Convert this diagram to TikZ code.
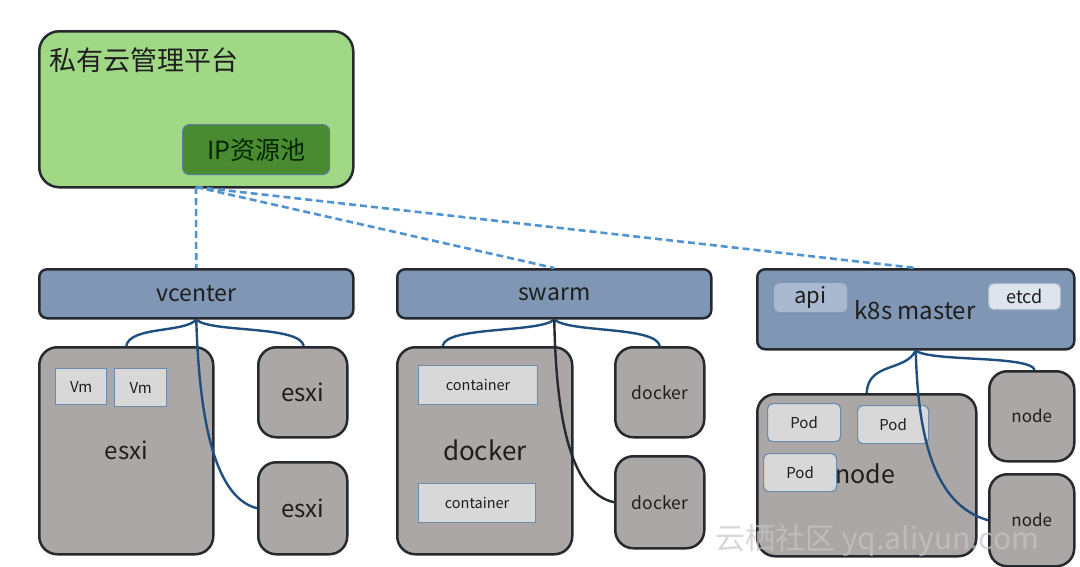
\documentclass[tikz,border=0pt]{standalone}
\usepackage{fontspec}
\setmainfont{Noto Sans CJK SC}
\usetikzlibrary{calc}
\definecolor{bd}{HTML}{262A30}
\definecolor{greenfill}{HTML}{A0D886}
\definecolor{poolfill}{HTML}{4A8A30}
\definecolor{poolbd}{HTML}{5A7F9A}
\definecolor{barfill}{HTML}{7F96B4}
\definecolor{greyfill}{HTML}{ABA7A7}
\definecolor{lightfill}{HTML}{D8D8D8}
\definecolor{lightbd}{HTML}{6C8CAE}
\definecolor{apifill}{HTML}{A9B9CF}
\definecolor{etcdfill}{HTML}{DEE4ED}
\definecolor{dashc}{HTML}{4F94D0}
\definecolor{linkc}{HTML}{1F4F7F}
\definecolor{txt}{HTML}{1E1E1E}
\newcommand{\fs}[1]{\fontsize{#1}{#1}\selectfont}
\begin{document}
\begin{tikzpicture}[x=1pt,y=-1pt,
  every node/.style={text=txt},
  base/.style={draw=bd, line width=2.5pt, anchor=north west, inner sep=0pt},
  platform/.style={base, fill=greenfill, rounded corners=20pt},
  bar/.style={base, fill=barfill, rounded corners=8pt, font=\fs{23}},
  host/.style={base, fill=greyfill, rounded corners=18pt},
  inner/.style={draw=lightbd, line width=1.2pt, fill=lightfill, anchor=north west, inner sep=0pt},
  pod/.style={inner, rounded corners=5pt},
  dashlink/.style={draw=dashc, line width=2.6pt, dash pattern=on 7pt off 4pt},
  link/.style={draw=linkc, line width=2.4pt},
  darklink/.style={draw=bd, line width=2.4pt}]
\useasboundingbox (0,0) rectangle (1080,566);

% platform
\node[platform, minimum width=314pt, minimum height=156pt] (plat) at (38,30) {};
\node[anchor=west, font=\fs{27}] (platt) at (46,60) {私有云管理平台};
\node[base, draw=poolbd, line width=1.2pt, fill=poolfill, rounded corners=7pt,
      minimum width=147pt, minimum height=50pt, font=\fs{25}, text=black!85!green] (pool) at (182,124) {IP资源池};
\coordinate (hub) at (196,187);

% vcenter
\node[bar, minimum width=314pt, minimum height=49pt] (vc) at (38,268) {vcenter};
\node[host, minimum width=174pt, minimum height=207pt, font=\fs{24}] (esxiA) at (38,346) {esxi};
\node[inner, minimum width=51pt, minimum height=36pt, font=\fs{15}] (vm1) at (55,368) {Vm};
\node[inner, minimum width=52pt, minimum height=38pt, font=\fs{15}] (vm2) at (114,368) {Vm};
\node[host, minimum width=89pt, minimum height=90pt, font=\fs{24}] (esxiB) at (257,346) {esxi};
\node[host, minimum width=89pt, minimum height=92pt, font=\fs{24}] (esxiC) at (257,461) {esxi};

% swarm
\node[bar, minimum width=314pt, minimum height=49pt] (sw) at (396,268) {swarm};
\node[host, minimum width=175pt, minimum height=207pt, font=\fs{26}] (dkA) at (396,346) {docker};
\node[inner, minimum width=119pt, minimum height=39pt, font=\fs{14.5}] (ct1) at (418,365) {container};
\node[inner, minimum width=117pt, minimum height=39pt, font=\fs{14.5}] (ct2) at (418,483) {container};
\node[host, minimum width=89pt, minimum height=90pt, font=\fs{17.5}] (dkB) at (614,346) {docker};
\node[host, minimum width=89pt, minimum height=92pt, font=\fs{17.5}] (dkC) at (614,455) {docker};

% k8s
\node[bar, minimum width=317pt, minimum height=80pt, font=\fs{23}] (k8s) at (756,268) {};
\node[font=\fs{24}] (k8st) at (915,310) {k8s master};
\node[base, draw=lightbd!60, line width=1.2pt, fill=apifill, rounded corners=5pt,
      minimum width=72pt, minimum height=28pt, font=\fs{22}] (api) at (774,283) {api};
\node[base, draw=lightbd!60, line width=1.2pt, fill=etcdfill, rounded corners=5pt,
      minimum width=72pt, minimum height=26pt, font=\fs{18}] (etcd) at (988,283) {etcd};
\node[host, minimum width=219pt, minimum height=162pt, font=\fs{25}] (ndA) at (756,393) {};
\node[pod, minimum width=73pt, minimum height=38pt, font=\fs{15}] (pod1) at (767,403) {Pod};
\node[pod, minimum width=71pt, minimum height=38pt, font=\fs{15}] (pod2) at (857,405) {Pod};
\node[pod, minimum width=73pt, minimum height=38pt, font=\fs{15}] (pod3) at (763,453) {Pod};
\node[font=\fs{25}] (ndAt) at (865,474) {node};
\node[host, minimum width=85pt, minimum height=90pt, font=\fs{17}] (ndB) at (988,370) {node};
\node[host, minimum width=85pt, minimum height=92pt, font=\fs{17}] (ndC) at (988,473) {node};

% dashed links
\draw[dashlink] (hub) -- (vc.north);
\draw[dashlink] (hub) -- (sw.north);
\draw[dashlink] (hub) -- (k8s.north);

% vcenter links
\draw[link] (vc.south) .. controls (185,333) and (130,326) .. (esxiA.north);
\draw[link] (vc.south) .. controls (210,333) and (300,325) .. ($(esxiB.north)+(1,0)$);
\draw[link] (vc.south) .. controls (199,410) and (212,497) .. (esxiC.west);

% swarm links
\draw[link] (sw.south) .. controls (540,333) and (445,326) .. ($(dkA.north)+(-42,0)$);
\draw[link] (sw.south) .. controls (570,333) and (656,326) .. (dkB.north);
\draw[darklink] (sw.south) .. controls (556,410) and (568,492) .. (dkC.west);

% k8s links
\draw[link] (k8s.south) .. controls (905,372) and (868,362) .. (ndA.north);
\draw[link] (k8s.south) .. controls (930,362) and (1030,355) .. ($(ndB.north)+(3,0)$);
\draw[link] (k8s.south) .. controls (918,440) and (935,505) .. (ndC.west);

% watermark
\node[anchor=west, font=\fs{30}, text=gray!45, opacity=0.7] (wm) at (712,540) {云栖社区 yq.aliyun.com};
\end{tikzpicture}
\end{document}
